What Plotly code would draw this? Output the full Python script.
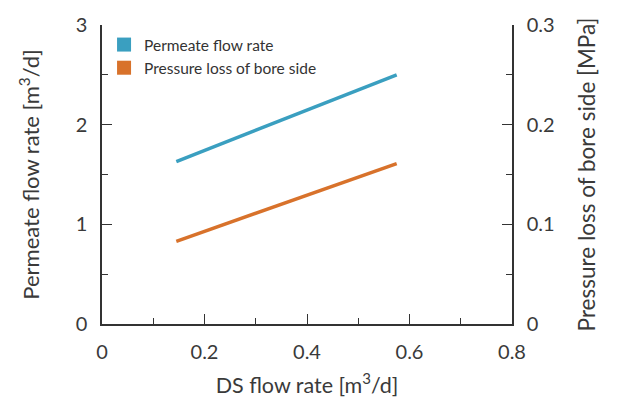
import plotly.graph_objects as go

ds_flow = [0.145, 0.575]
permeate = [1.63, 2.5]
pressure_loss = [0.083, 0.161]

series_names = ["Permeate flow rate", "Pressure loss of bore side"]
colors = ["#3a9fc0", "#d8722b"]

FONT = "Lato"
axis_col = "#333333"
txt_col = "#3a3a3a"

fig = go.Figure()
fig.add_trace(go.Scatter(x=ds_flow, y=permeate, mode="lines",
                         line=dict(color=colors[0], width=3.5), showlegend=False))
fig.add_trace(go.Scatter(x=ds_flow, y=pressure_loss, mode="lines", yaxis="y2",
                         line=dict(color=colors[1], width=3.5), showlegend=False))
for name, c in zip(series_names, colors):
    fig.add_trace(go.Scatter(x=[None], y=[None], mode="markers", name=name,
                             marker=dict(symbol="square", size=14, color=c)))

common = dict(showline=True, linecolor=axis_col, linewidth=1.5, ticks="inside",
              ticklen=10, tickcolor=axis_col, tickwidth=1, showgrid=False, zeroline=False,
              automargin=False, ticklabelstandoff=9,
              tickfont=dict(family=FONT, size=20, color=txt_col))

fig.update_layout(
    width=617, height=395,
    margin=dict(l=94, r=113, t=17, b=79),
    paper_bgcolor="white", plot_bgcolor="white",
    xaxis=dict(range=[0, 0.8], tickvals=[0, 0.2, 0.4, 0.6, 0.8],
               ticktext=["0", "0.2", "0.4", "0.6", "0.8"],
               minor=dict(dtick=0.1, ticks="inside", ticklen=6, tickcolor=axis_col),
               title=dict(text="DS flow rate [m<sup>3</sup>/d]", standoff=16,
                          font=dict(family=FONT, size=21.5, color=txt_col)), **common),
    yaxis=dict(range=[0, 3], dtick=1,
               minor=dict(dtick=0.5, ticks="inside", ticklen=6, tickcolor=axis_col),
               title=dict(text="Permeate flow rate [m<sup>3</sup>/d]", standoff=30,
                          font=dict(family=FONT, size=22, color=txt_col)), **common),
    yaxis2=dict(range=[0, 0.3], tickvals=[0, 0.1, 0.2, 0.3], ticktext=["0", "0.1", "0.2", "0.3"],
                overlaying="y", side="right",
                minor=dict(dtick=0.05, ticks="inside", ticklen=6, tickcolor=axis_col),
                title=dict(text="Pressure loss of bore side [MPa]", standoff=26,
                           font=dict(family=FONT, size=22.5, color=txt_col)), **common),
    legend=dict(x=0.005, y=0.99, xanchor="left", yanchor="top", bgcolor="rgba(0,0,0,0)",
                font=dict(family=FONT, size=15.5, color="#333"), itemwidth=30, tracegroupgap=4),
)
fig.write_html("out.html")
